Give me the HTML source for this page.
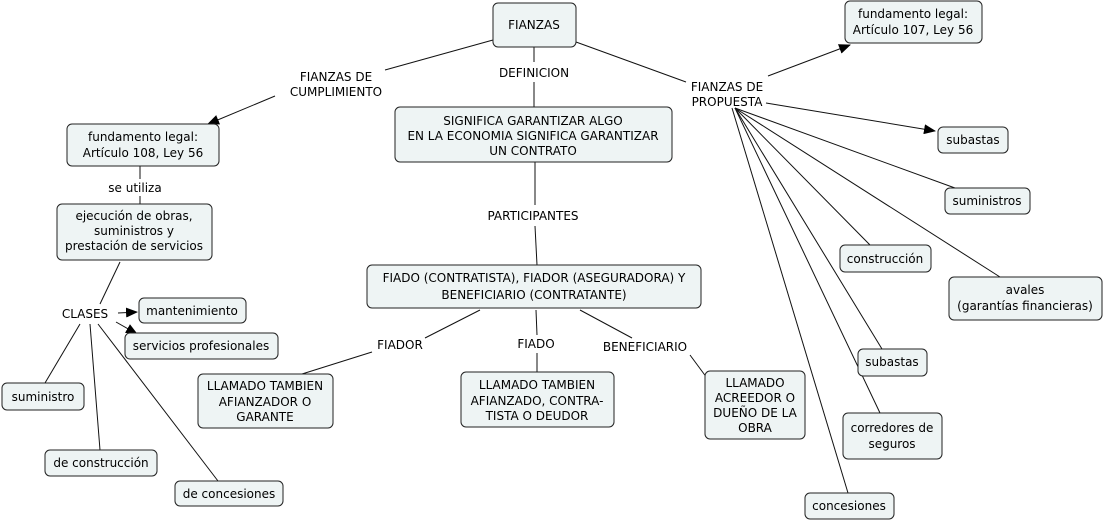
<!DOCTYPE html>
<html><head><meta charset="utf-8"><style>
html,body{margin:0;padding:0;background:#fff;}
svg{display:block;font-family:"DejaVu Sans","Liberation Sans",sans-serif;font-size:12px;}
.b{fill:#eef4f4;stroke:#222;stroke-width:1;}
.l{stroke:#111;stroke-width:1;fill:none;}
text{fill:#000;text-anchor:middle;}
</style></head><body>
<svg width="1104" height="521" viewBox="0 0 1104 521">
<defs><marker id="a" markerWidth="12" markerHeight="10" refX="11" refY="5" orient="auto" markerUnits="userSpaceOnUse"><path d="M0,0 L12,5 L0,10 z" fill="#000"/></marker></defs>
<g class="l">
<line x1="493" y1="40" x2="385" y2="70"/>
<line x1="275" y1="96" x2="208" y2="124" marker-end="url(#a)"/>
<line x1="534" y1="47" x2="534" y2="62"/>
<line x1="534" y1="82" x2="534" y2="107"/>
<line x1="576" y1="42" x2="686" y2="82"/>
<line x1="768" y1="76" x2="850" y2="45" marker-end="url(#a)"/>
<line x1="766" y1="103" x2="935" y2="131" marker-end="url(#a)"/>
<line x1="735" y1="108" x2="955" y2="188"/>
<line x1="735" y1="108" x2="870" y2="245"/>
<line x1="735" y1="108" x2="1000" y2="277"/>
<line x1="735" y1="108" x2="882" y2="349"/>
<line x1="735" y1="108" x2="880" y2="413"/>
<line x1="732" y1="108" x2="848" y2="493"/>
<line x1="140" y1="166" x2="140" y2="179"/>
<line x1="140" y1="196" x2="140" y2="204"/>
<line x1="120" y1="262" x2="100" y2="304"/>
<line x1="118" y1="313" x2="137" y2="312" marker-end="url(#a)"/>
<line x1="116" y1="322" x2="137" y2="334" marker-end="url(#a)"/>
<line x1="80" y1="324" x2="45" y2="383"/>
<line x1="90" y1="324" x2="100" y2="450"/>
<line x1="98" y1="324" x2="218" y2="481"/>
<line x1="535" y1="162" x2="535" y2="205"/>
<line x1="535" y1="226" x2="537" y2="265"/>
<line x1="480" y1="310" x2="425" y2="338"/>
<line x1="372" y1="352" x2="302" y2="374"/>
<line x1="536" y1="310" x2="537" y2="335"/>
<line x1="537" y1="353" x2="537" y2="372"/>
<line x1="580" y1="310" x2="632" y2="338"/>
<line x1="690" y1="355" x2="707" y2="378"/>
</g>
<g class="b">
<rect x="493" y="3" width="83" height="44" rx="5"/>
<rect x="845" y="1" width="137" height="42" rx="5"/>
<rect x="67" y="124" width="152" height="42" rx="5"/>
<rect x="395" y="107" width="277" height="55" rx="5"/>
<rect x="57" y="204" width="155" height="56" rx="5"/>
<rect x="367" y="265" width="334" height="43" rx="5"/>
<rect x="139" y="298" width="107" height="25" rx="5"/>
<rect x="125" y="333" width="153" height="26" rx="5"/>
<rect x="2" y="383" width="82" height="27" rx="5"/>
<rect x="45" y="450" width="112" height="26" rx="5"/>
<rect x="175" y="481" width="108" height="25" rx="5"/>
<rect x="198" y="374" width="135" height="54" rx="5"/>
<rect x="461" y="372" width="153" height="55" rx="5"/>
<rect x="705" y="371" width="100" height="68" rx="5"/>
<rect x="938" y="127" width="70" height="26" rx="5"/>
<rect x="945" y="188" width="85" height="26" rx="5"/>
<rect x="840" y="245" width="91" height="27" rx="5"/>
<rect x="949" y="277" width="153" height="43" rx="5"/>
<rect x="858" y="349" width="69" height="27" rx="5"/>
<rect x="843" y="413" width="99" height="46" rx="5"/>
<rect x="805" y="493" width="89" height="26" rx="5"/>
</g>
<text x="534" y="29">FIANZAS</text>
<text x="913" y="18">fundamento legal:</text><text x="913" y="34">Artículo 107, Ley 56</text>
<text x="143" y="141">fundamento legal:</text><text x="143" y="157">Artículo 108, Ley 56</text>
<text x="533" y="125">SIGNIFICA GARANTIZAR ALGO</text><text x="533" y="140">EN LA ECONOMIA SIGNIFICA GARANTIZAR</text><text x="533" y="155">UN CONTRATO</text>
<text x="134" y="220">ejecución de obras,</text><text x="134" y="235">suministros y</text><text x="134" y="250">prestación de servicios</text>
<text x="534" y="282">FIADO (CONTRATISTA), FIADOR (ASEGURADORA) Y</text><text x="534" y="299">BENEFICIARIO (CONTRATANTE)</text>
<text x="192" y="315">mantenimiento</text>
<text x="201" y="350">servicios profesionales</text>
<text x="43" y="401">suministro</text>
<text x="101" y="467">de construcción</text>
<text x="229" y="498">de concesiones</text>
<text x="265" y="390">LLAMADO TAMBIEN</text><text x="265" y="406">AFIANZADOR O</text><text x="265" y="421">GARANTE</text>
<text x="537" y="389">LLAMADO TAMBIEN</text><text x="537" y="405">AFIANZADO, CONTRA-</text><text x="537" y="420">TISTA O DEUDOR</text>
<text x="755" y="387">LLAMADO</text><text x="755" y="402">ACREEDOR O</text><text x="755" y="417">DUEÑO DE LA</text><text x="755" y="432">OBRA</text>
<text x="973" y="144">subastas</text>
<text x="987" y="205">suministros</text>
<text x="885" y="263">construcción</text>
<text x="1025" y="294">avales</text><text x="1025" y="310">(garantías financieras)</text>
<text x="892" y="366">subastas</text>
<text x="892" y="432">corredores de</text><text x="892" y="448">seguros</text>
<text x="849" y="510">concesiones</text>
<text x="336" y="81">FIANZAS DE</text><text x="336" y="96">CUMPLIMIENTO</text>
<text x="534" y="77">DEFINICION</text>
<text x="727" y="91">FIANZAS DE</text><text x="727" y="106">PROPUESTA</text>
<text x="135" y="192">se utiliza</text>
<text x="533" y="220">PARTICIPANTES</text>
<text x="85" y="318">CLASES</text>
<text x="400" y="349">FIADOR</text>
<text x="536" y="348">FIADO</text>
<text x="645" y="351">BENEFICIARIO</text>
</svg>
</body></html>
